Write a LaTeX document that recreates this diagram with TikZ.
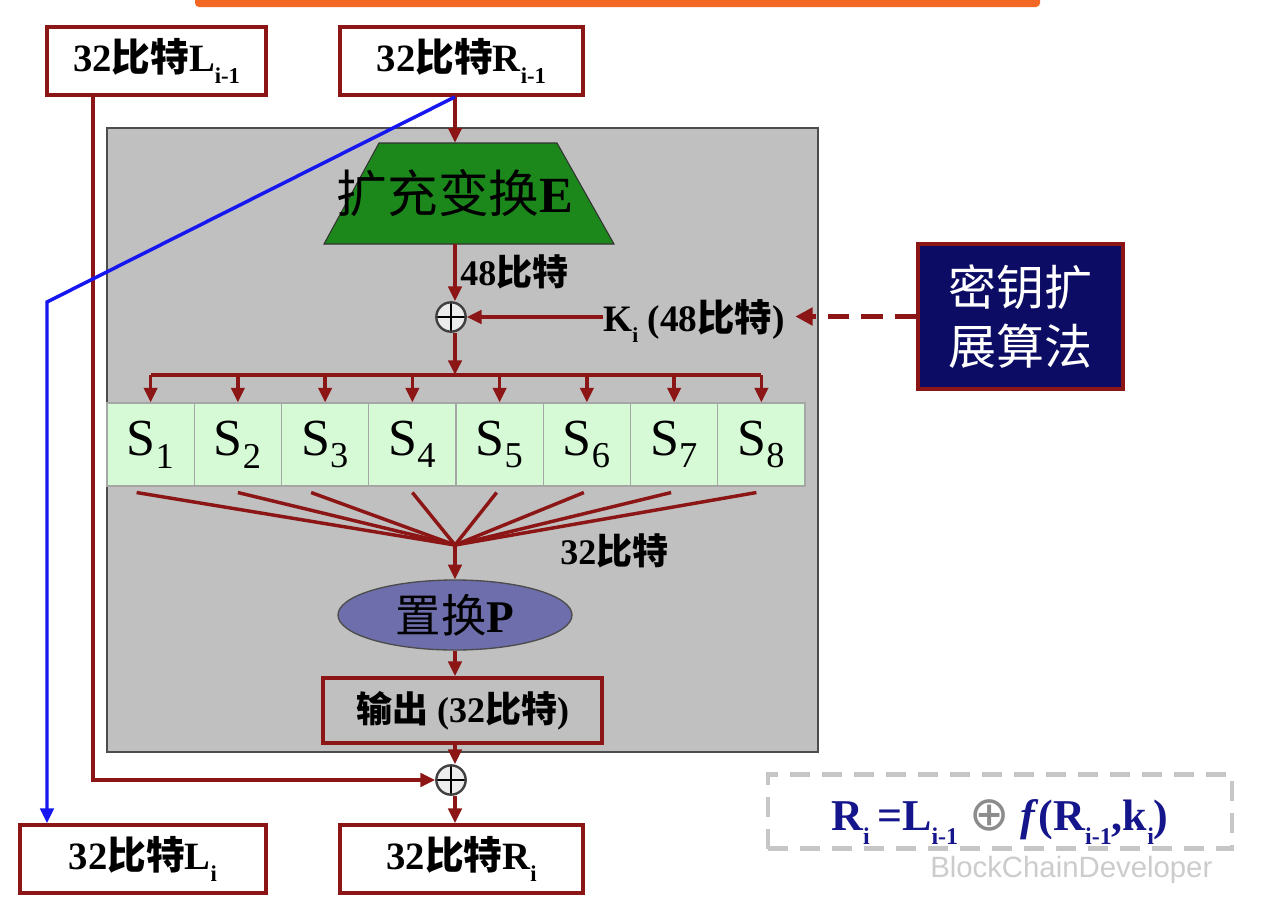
\documentclass[tikz,border=0pt]{standalone}
\usepackage{fontspec}
\setmainfont{Liberation Serif}
\newfontfamily\cjk{Noto Sans CJK SC}
\newfontfamily\dejavu{DejaVu Sans}
\newfontfamily\wmfont{Liberation Sans}
\usetikzlibrary{shapes.geometric,arrows.meta,calc}
\definecolor{dred}{RGB}{140,22,22}
\definecolor{orangec}{RGB}{242,104,36}
\definecolor{grayc}{RGB}{192,192,192}
\definecolor{greenc}{RGB}{28,136,28}
\definecolor{navybox}{RGB}{12,12,100}
\definecolor{sgreen}{RGB}{214,250,214}
\definecolor{pblue}{RGB}{110,110,172}
\definecolor{bluec}{RGB}{22,22,240}
\definecolor{navyt}{RGB}{22,22,140}
\newcommand{\zh}[1]{{\cjk #1}}
\newcommand{\fs}[1]{\fontsize{#1}{#1}\selectfont}
\newcommand{\sub}[2]{\raisebox{-0.32em}{\fontsize{#1}{#1}\selectfont\bfseries #2}}
\tikzset{
  redbox/.style={draw=dred, line width=2.8pt, fill=white, minimum height=51pt, inner sep=0pt, font=\bfseries\fs{29pt}},
  arr/.style={draw=dred, line width=2.6pt, -{Triangle[length=11pt,width=10pt]}},
  ln/.style={draw=dred, line width=2.6pt},
  oplus/.style={circle, draw=black!75, line width=1.8pt, fill=white!85!gray, minimum size=22pt, inner sep=0pt,
    path picture={\draw[black, line width=1.4pt] (path picture bounding box.north) -- (path picture bounding box.south)
      (path picture bounding box.west) -- (path picture bounding box.east);}},
  sbox/.style={draw=gray!70, line width=0.8pt, fill=sgreen, minimum width=65.44pt, minimum height=62.25pt, inner sep=0pt, font=\fs{39pt}},
  lbl/.style={font=\bfseries\fs{27pt}, inner sep=0pt},
}
\begin{document}
\begin{tikzpicture}[x=0.75pt,y=-0.75pt]
\useasboundingbox (0,0) rectangle (1268,900);
\fill[white] (0,0) rectangle (1268,900);
% orange bar at top
\fill[orangec, rounded corners=3pt] (195,-8) rectangle (1040,7);
% axes
\coordinate (ax) at (455,0);
\coordinate (lx) at (93,0);
% gray frame
\node[draw=black!70, line width=1pt, fill=grayc, minimum width=533.25pt, minimum height=468pt, inner sep=0pt] (F) at (462.5,440) {};
% top and bottom boxes
\node[redbox, minimum width=164.25pt] (Lp) at (156.5,61) {32\zh{比特}L\sub{17pt}{i-1}};
\node[redbox, minimum width=182.25pt] (Rp) at (461.5,61) {32\zh{比特}R\sub{17pt}{i-1}};
\node[redbox, minimum width=184.5pt] (Li) at (143,859) {32\zh{比特}L\sub{17pt}{i}};
\node[redbox, minimum width=182.25pt] (Ri) at (461.5,859) {32\zh{比特}R\sub{17pt}{i}};
% expansion E
\filldraw[fill=greenc, draw=black!80, line width=0.8pt] (379,143) -- (557,143) -- (614,244) -- (324,244) -- cycle;
\node[minimum width=217.5pt, minimum height=75.75pt, inner sep=0pt, font=\fs{38pt}] (E) at (455,193.5) {\zh{扩充变换}\textbf{E}};
% xor 1
\node[oplus] (X1) at (451,317) {};
\node[lbl, anchor=west] (b48) at (460,272) {48\zh{比特}};
\node[lbl, font=\bfseries\fs{28pt}, anchor=west] (Ki) at (603,321) {K\sub{16pt}{i} (48\zh{比特})};
\node[draw=dred, line width=2.8pt, fill=navybox, text=white, minimum width=153.75pt, minimum height=108.75pt, align=center, font=\cjk\fs{36pt}] (KA) at (1020.5,316.5) {密钥扩\\[8pt]展算法};
% S boxes
\foreach \k in {1,...,8}{
  \node[sbox] (S\k) at ({107+87.25*(\k-0.5)},444.5) {S\textsubscript{\k}};
}
\coordinate (bus) at (455,375);
\coordinate (cv) at (455,545);
% permutation P
\node[ellipse, draw=black!70, line width=1pt, fill=pblue, minimum width=175.5pt, minimum height=52.5pt, inner sep=0pt, font=\fs{34pt}] (P) at (455,615) {\zh{置换}\textbf{P}};
\node[lbl, anchor=west] (b32) at (560,551) {32\zh{比特}};
% output
\node[draw=dred, line width=2.8pt, minimum width=209.25pt, minimum height=48.75pt, inner sep=0pt, font=\bfseries\fs{27pt}] (O) at (462.5,710.5) {\zh{输出} (32\zh{比特})};
% xor 2
\node[oplus] (X2) at (451,780) {};
% connectors
\draw[arr] (Rp.south -| ax) -- (E.north -| ax);
\draw[arr] (E.south -| ax) -- (X1.north -| ax);
\draw[arr] (X1 -| Ki.west) -- (X1.east);
\draw[draw=dred, line width=4pt, dash pattern=on 16pt off 9pt, -{Triangle[length=13pt,width=13pt]}] (KA.west) -- ([xshift=8pt]Ki.east |- KA.west);
\draw[arr] (X1.south -| ax) -- (bus);
\draw[ln] (S1.north |- bus) -- (S8.north |- bus);
\foreach \k in {1,...,8}{
  \draw[arr] (S\k.north |- bus) -- (S\k.north);
}
\draw[ln] ($(S1.south)+(-14,6)$) -- (cv);
\draw[ln] ($(S2.south)+(0,6)$) -- (cv);
\draw[ln] ($(S3.south)+(-14,6)$) -- (cv);
\draw[ln] ($(S4.south)+(0,6)$) -- (cv);
\draw[ln] ($(S5.south)+(-3,6)$) -- (cv);
\draw[ln] ($(S6.south)+(-3,6)$) -- (cv);
\draw[ln] ($(S7.south)+(-3,6)$) -- (cv);
\draw[ln] ($(S8.south)+(-5,6)$) -- (cv);
\draw[arr] (cv) -- (P.north -| ax);
\draw[arr] (P.south -| ax) -- (O.north -| ax);
\draw[arr] (O.south -| ax) -- (X2.north -| ax);
\draw[arr] (Lp.south -| lx) |- (X2.west);
\draw[arr] (X2.south -| ax) -- (Ri.north -| ax);
% blue path
\coordinate (bend) at (47,302);
\draw[draw=bluec, line width=2.6pt, -{Triangle[length=11pt,width=10pt]}] (Rp.south -| ax) -- (bend) -- (Li.north -| bend);
% formula box
\node[draw=gray!45, line width=3.2pt, dash pattern=on 15pt off 9pt, minimum width=348pt, minimum height=55.5pt, inner sep=0pt] (FB) at (1000,811.5) {};
\node[font=\bfseries\fs{33pt}, text=navyt, inner sep=0pt] (Fm) at (1000,822) {R\sub{18pt}{i}\,=L\sub{18pt}{i-1} {\color{gray!90}\dejavu\mdseries\fs{36pt}⊕} \textit{f}(R\sub{18pt}{i-1},k\sub{18pt}{i})};
\node[font=\wmfont\fs{22pt}, text=gray!40, inner sep=0pt, anchor=west] (wm) at (930,870) {BlockChainDeveloper};
\end{tikzpicture}
\end{document}
